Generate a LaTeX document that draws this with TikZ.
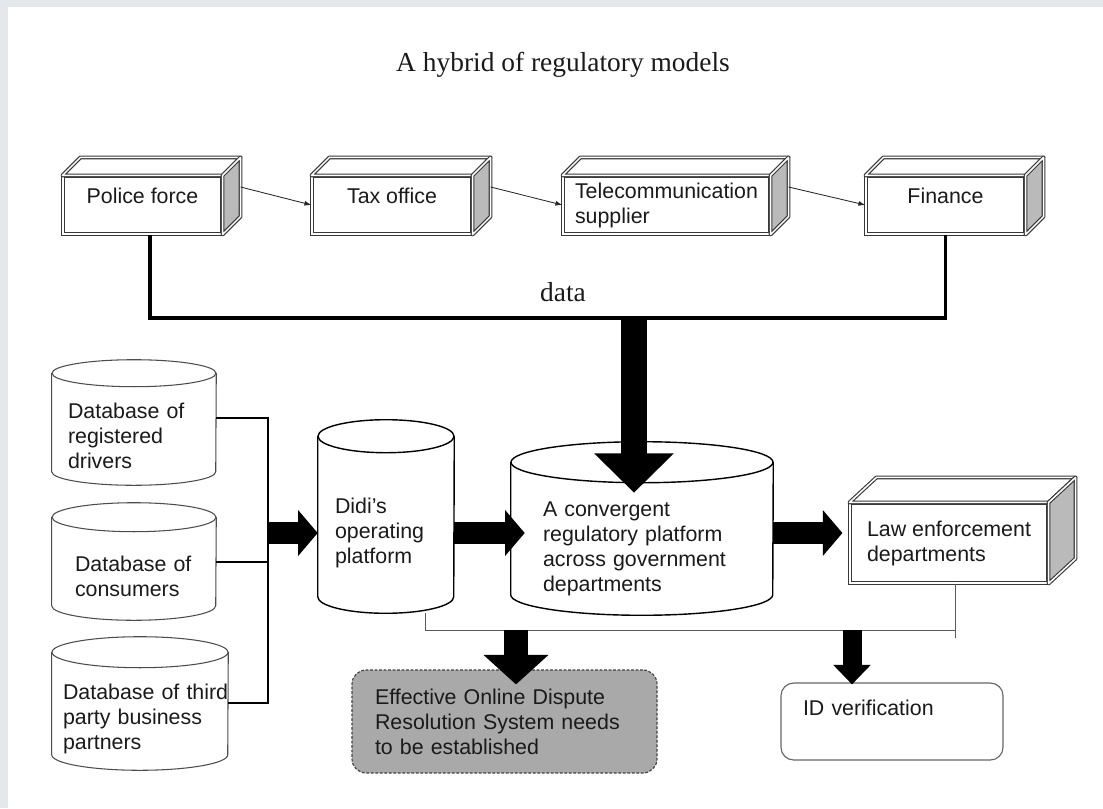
\documentclass[tikz,border=0pt]{standalone}
\usepackage{fontspec}
\setmainfont{Liberation Serif}
\setsansfont{Liberation Sans}
\usetikzlibrary{arrows.meta}

\newdimen\pxu \pxu=0.025cm
\definecolor{framegray}{HTML}{E4E8EB}
\definecolor{facegray}{HTML}{BABABA}
\definecolor{notegray}{HTML}{A9A9A9}
\definecolor{inkgray}{HTML}{1A1A1A}
\definecolor{blockedge}{HTML}{383838}
\newcommand{\boxtext}{\sffamily\fontsize{15.2}{17.8}\selectfont}

% top and right face of a block: node, depth x, depth y
\newcommand{\blockfaces}[3]{%
  \draw[blockline, fill=white] (#1.north west) -- ++(#2,-#3) -- ([shift={(#2,-#3)}]#1.north east) -- (#1.north east) -- cycle;
  \draw[blockline, fill=facegray] (#1.north east) -- ([shift={(#2,-#3)}]#1.north east) -- ([shift={(#2,-#3)}]#1.south east) -- (#1.south east) -- cycle;}
% cylinder outline round a body node: [style] node, x radius, y radius
\newcommand{\cylshape}[4][cylline]{%
  \draw[#1] ([yshift=#4]#2.north west) -- ([yshift=#4]#2.south west) arc (180:360:#3 and #4) -- ([yshift=#4]#2.north east);
  \draw[#1] ([yshift=#4]#2.north) ellipse (#3 and #4);}

\begin{document}
\begin{tikzpicture}[x=0.025cm, y=-0.025cm,
    block/.style={draw=blockedge, double=white, double distance=1.1pt, line width=0.8pt, fill=white, font=\boxtext, text=inkgray, inner sep=0pt},
    blockline/.style={draw=blockedge, double=white, double distance=1.1pt, line width=0.8pt, line join=round},
    cylbody/.style={font=\boxtext, text=inkgray, align=left, inner ysep=0pt},
    cylline/.style={draw=black, line width=1pt},
    dbline/.style={draw=black!70, line width=0.75pt},
    flow/.style={-{Latex[length=5pt,width=3.5pt]}, line width=0.6pt, draw=black!85},
    dataline/.style={line width=2.5pt, line join=miter},
    tieline/.style={line width=0.9pt},
    sublink/.style={line width=0.7pt, draw=black!65},
    bigflow/.style={line width=18.4pt, -{Triangle[length=28pt,width=55pt]}},
    midflow/.style={line width=15pt, -{Triangle[length=14pt,width=32pt]}},
    odrflow/.style={line width=17pt, -{Triangle[length=21pt,width=45pt]}},
    idflow/.style={line width=13.5pt, -{Triangle[length=14pt,width=26pt]}},
    odrbox/.style={draw=black!75, dashed, dash pattern=on 2pt off 1.2pt, line width=0.8pt, fill=notegray, rounded corners=10pt, font=\boxtext, text=inkgray, align=left, inner ysep=0pt},
    idbox/.style={draw=black!60, line width=0.8pt, rounded corners=9pt, font=\boxtext, text=inkgray, align=left, inner ysep=0pt}]
\fill[framegray] (0,0) rectangle (1103,808);
\fill[white] (8,7) rectangle (1103,808);
\useasboundingbox (0,0) rectangle (1103,808);

\node[text=inkgray, font=\fontsize{19.5}{23}\selectfont] (title) at (563,65) {A hybrid of regulatory models};

\node[block, minimum width=159\pxu, minimum height=58\pxu, text depth=12.8pt] (police) at (142.5,205) {Police force};
\node[block, minimum width=160\pxu, minimum height=58\pxu, text depth=12.8pt] (tax) at (392,205) {Tax office};
\node[block, align=left, minimum width=207\pxu, minimum height=58\pxu] (telecom) at (666.5,205) {Telecommunication\\supplier};
\node[block, minimum width=159\pxu, minimum height=58\pxu, text depth=12.8pt] (finance) at (945.5,205) {Finance};
\blockfaces{police}{18}{18}
\blockfaces{tax}{18}{18}
\blockfaces{telecom}{18}{18}
\blockfaces{finance}{18}{18}
\draw[flow] ([shift={(18,-18)}]police.east) -- (tax.west);
\draw[flow] ([shift={(18,-18)}]tax.east) -- (telecom.west);
\draw[flow] ([shift={(18,-18)}]telecom.east) -- (finance.west);

\coordinate (databus) at (634,318);
\draw[dataline] ([xshift=7.5\pxu]police.south) |- (databus) -| (finance.south);
\node[text=inkgray, font=\fontsize{19.5}{23}\selectfont] (datalabel) at (563,292) {data};

\node[cylbody, minimum height=98\pxu, text width=132\pxu, inner xsep=16\pxu] (drivers) at (134,436) {Database of\\registered\\drivers};
\node[cylbody, minimum height=88\pxu, text width=118\pxu, inner xsep=23\pxu] (consumers) at (134,576) {Database of\\consumers};
\node[cylbody, minimum height=102\pxu, text width=154\pxu, inner xsep=11\pxu] (partners) at (140,719) {Database~of~third\\party business\\partners};
\node[cylbody, minimum height=160\pxu, text width=102\pxu, inner xsep=17\pxu] (didi) at (386,533) {Didi’s\\operating\\platform};
\node[cylbody, minimum height=132\pxu, text width=198\pxu, inner xsep=32\pxu] (regplat) at (642,549) {A convergent\\regulatory platform\\across government\\departments};
\cylshape[dbline]{drivers}{82\pxu}{13.5\pxu}
\cylshape[dbline]{consumers}{82\pxu}{14.5\pxu}
\cylshape[dbline]{partners}{88\pxu}{15.5\pxu}
\cylshape{didi}{68\pxu}{16.5\pxu}
\cylshape{regplat}{131\pxu}{20.5\pxu}

\node[block, align=left, minimum width=198\pxu, minimum height=80\pxu] (law) at (949,543) {Law enforcement\\departments};
\blockfaces{law}{27}{25}

\draw[bigflow, shorten >=-10\pxu] (databus) -- (databus |- regplat.north);

\coordinate (dbjoin) at (268,533);
\draw[tieline] ([yshift=18\pxu]drivers.east) -| (dbjoin);
\draw[tieline] ([yshift=14\pxu]consumers.east) -| (dbjoin);
\draw[tieline] ([yshift=16\pxu]partners.east) -| (dbjoin);
\draw[midflow] (dbjoin) -- (didi.west);
\draw[midflow, shorten >=-14\pxu] (didi.east) -- (didi.east -| regplat.west);
\draw[midflow, shorten >=7\pxu] (regplat.east |- didi.east) -- (didi.east -| law.west);

\node[odrbox, minimum height=103\pxu, text width=259\pxu, inner xsep=23\pxu] (odr) at (504.5,721.5) {Effective Online Dispute\\Resolution System needs\\to be established};
\node[idbox, minimum height=77\pxu, text width=178\pxu, inner xsep=22\pxu, text depth=19pt] (idcheck) at (892,721.5) {ID verification};

\coordinate (lowbus) at (955,630);
\draw[sublink] ([xshift=39\pxu]didi.south) |- (lowbus);
\draw[sublink] ([xshift=6\pxu]law.south) -- ++(0,54);
\coordinate (odrtap) at (516,630);
\coordinate (idtap) at (852,630);
\draw[odrflow, shorten >=-15\pxu] (odrtap) -- (odrtap |- odr.north);
\draw[idflow, shorten >=-2\pxu] (idtap) -- (idtap |- idcheck.north);
\end{tikzpicture}
\end{document}
